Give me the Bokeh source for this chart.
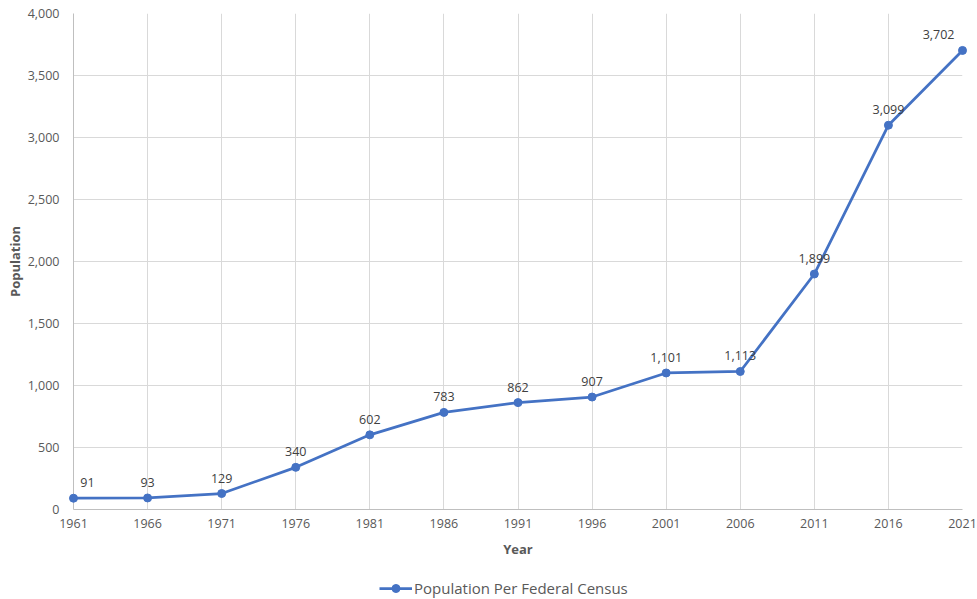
from bokeh.plotting import figure
from bokeh.layouts import column
from bokeh.models import ColumnDataSource, FixedTicker, NumeralTickFormatter, Legend, LegendItem, Range1d
from bokeh.core.properties import value
from bokeh.embed import file_html
from bokeh.resources import INLINE

years = [1961, 1966, 1971, 1976, 1981, 1986, 1991, 1996, 2001, 2006, 2011, 2016, 2021]
population = [91, 93, 129, 340, 602, 783, 862, 907, 1101, 1113, 1899, 3099, 3702]
y_ticks = [0, 500, 1000, 1500, 2000, 2500, 3000, 3500, 4000]
series_name = "Population Per Federal Census"

FONT = "Open Sans"
BLUE = "#4472C4"
GRID = "#D9D9D9"
TXT = "#595959"

labels = [f"{v:,}" for v in population]
n = len(years)
x_off = [0] * n
x_off[0] = 14
align = ["center"] * n
align[-1] = "right"
x_off[-1] = -8

src = ColumnDataSource(dict(x=years, y=population, lab=labels, xo=x_off, al=align))

LEFT = 73
TOP = 13
FRAME_H = 497
BOTTOM = 50
MAIN_H = TOP + FRAME_H + BOTTOM
p = figure(width=977, height=MAIN_H, output_backend="svg", toolbar_location=None,
           x_range=Range1d(1961, 2021), y_range=Range1d(0, 4000),
           min_border_left=LEFT, min_border_right=15, min_border_top=TOP, min_border_bottom=BOTTOM)
p.outline_line_color = None
p.background_fill_color = "white"
p.border_fill_color = "white"

for ax in (p.xaxis[0], p.yaxis[0]):
    ax.axis_line_color = "#BFBFBF"
    ax.major_tick_line_color = None
    ax.minor_tick_line_color = None
    ax.major_label_text_color = TXT
    ax.major_label_text_font = FONT
    ax.major_label_text_font_size = "12.5px"
    ax.axis_label_text_font = FONT
    ax.axis_label_text_font_style = "bold"
    ax.axis_label_text_font_size = "13px"
    ax.axis_label_text_color = TXT

p.xaxis.ticker = FixedTicker(ticks=years)
p.yaxis.ticker = FixedTicker(ticks=y_ticks)
p.yaxis.formatter = NumeralTickFormatter(format="0,0")
p.xaxis.major_label_standoff = 3
p.yaxis.major_label_standoff = 8
p.xaxis.axis_label = "Year"
p.yaxis.axis_label = "Population"
p.xaxis.axis_label_standoff = 9
p.yaxis.axis_label_standoff = 1

p.xgrid.grid_line_color = GRID
p.ygrid.grid_line_color = GRID
p.xgrid.ticker = FixedTicker(ticks=years)
p.ygrid.ticker = FixedTicker(ticks=y_ticks)

ln = p.line("x", "y", source=src, line_color=BLUE, line_width=2.75)
pts = p.scatter("x", "y", source=src, size=8, fill_color=BLUE, line_color=BLUE)
ln.level = "overlay"
pts.level = "overlay"

p.text("x", "y", text="lab", source=src, x_offset="xo", y_offset=-11,
       text_align="al", text_baseline="bottom", text_font_size="12.5px",
       text_color="#404040", text_font=value(FONT), level="overlay")

# legend strip below the chart (series drawn off-frame, only its legend shows)
LEG_H = 599 - MAIN_H
q = figure(width=977, height=LEG_H, output_backend="svg", toolbar_location=None,
           x_range=Range1d(0, 1), y_range=Range1d(0, 1),
           x_axis_type=None, y_axis_type=None,
           min_border_left=0, min_border_right=0, min_border_top=0, min_border_bottom=0)
q.outline_line_color = None
q.xgrid.visible = False
q.ygrid.visible = False
q.border_fill_color = "white"
q.background_fill_color = "white"
lg_ln = q.line("x", "y", source=src, line_color=BLUE, line_width=2.75)
lg_pt = q.scatter("x", "y", source=src, size=8, fill_color=BLUE, line_color=BLUE)

legend = Legend(items=[LegendItem(label=series_name, renderers=[lg_ln, lg_pt])],
                location=(379 - LEFT, 1), orientation="horizontal",
                label_text_font=FONT, label_text_font_size="15px", label_text_color=TXT,
                background_fill_alpha=0, border_line_color=None,
                glyph_width=33, label_standoff=2, padding=0, margin=0)
q.add_layout(legend, "center")

layout = column(p, q, spacing=0)
open("out.html", "w").write(file_html(layout, INLINE))
